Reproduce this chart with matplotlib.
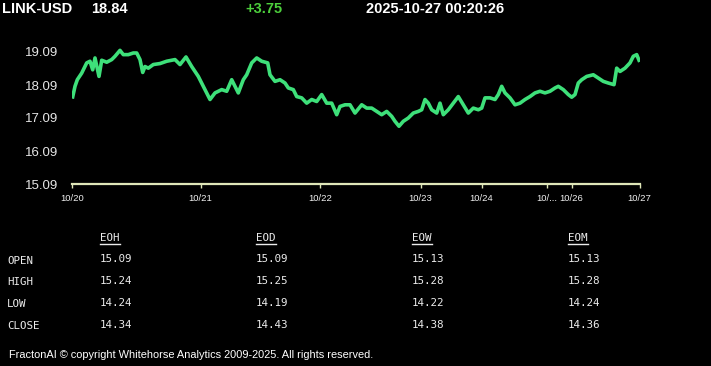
import matplotlib
matplotlib.use("Agg")
import matplotlib.pyplot as plt

# price trace (x = sample position along the series, y = price)
xs = [0.7, 3, 5.3, 9.7, 14.7, 18, 20.7, 23, 27, 29.7, 34.7, 39.7, 43, 48, 51.3,
      56.3, 61.3, 64.7, 68, 70.7, 73, 76.3, 81.3, 88, 94.7, 103, 108, 114, 119.7,
      126.3, 131.3, 138, 143, 149.7, 154.7, 159.7, 163, 166.3, 171.3, 174.7, 179.7,
      184.7, 189.7, 195.7, 198, 203, 208, 213, 216.3, 221.3, 224.7, 229.7, 234.7,
      239.7, 244.7, 249.7, 254.7, 259.7, 264.7, 268, 273, 278, 283, 289.7, 294.7,
      299.7, 304.7, 309.7, 314.7, 319.7, 323, 327, 331.3, 336.3, 341.3, 346.3,
      349.7, 353, 356.3, 359.7, 364.7, 368, 371.3, 376.3, 381.3, 386.3, 391.3,
      396.3, 401.3, 406.3, 409.7, 413, 418, 423, 426.3, 429.7, 433, 438, 443, 448,
      453, 458, 463, 468, 473, 478, 483, 486.3, 491.3, 496.3, 499.7, 503, 506.3,
      509.7, 514.7, 521.3, 526.3, 531.3, 536.3, 542, 544.7, 548, 553, 558, 561.3,
      564.7, 567]
prices = [17.73, 18.05, 18.25, 18.45, 18.76, 18.81, 18.55, 18.91, 18.35, 18.84,
          18.78, 18.86, 18.96, 19.14, 19.01, 19.01, 19.06, 19.06, 18.86, 18.47,
          18.65, 18.60, 18.71, 18.74, 18.81, 18.86, 18.71, 18.94, 18.65, 18.35,
          18.05, 17.65, 17.85, 17.95, 17.90, 18.25, 18.05, 17.85, 18.25, 18.40,
          18.76, 18.91, 18.81, 18.76, 18.40, 18.20, 18.25, 18.15, 18.00, 17.95,
          17.74, 17.70, 17.54, 17.65, 17.59, 17.80, 17.54, 17.54, 17.19, 17.44,
          17.49, 17.49, 17.24, 17.49, 17.39, 17.39, 17.29, 17.19, 17.29, 17.14,
          16.99, 16.84, 16.99, 17.09, 17.24, 17.29, 17.34, 17.65, 17.54, 17.34,
          17.24, 17.54, 17.19, 17.34, 17.54, 17.74, 17.49, 17.24, 17.39, 17.34,
          17.39, 17.70, 17.70, 17.65, 17.80, 18.05, 17.85, 17.70, 17.49, 17.54,
          17.65, 17.74, 17.85, 17.90, 17.85, 17.90, 18.00, 18.05, 17.95, 17.80,
          17.72, 17.80, 18.15, 18.25, 18.35, 18.40, 18.30, 18.20, 18.15, 18.10,
          18.60, 18.50, 18.60, 18.76, 18.96, 19.01, 18.84]

tick_pos = [0, 128.5, 248, 348.5, 409.5, 474.5, 499.5, 567.5]
tick_labels = ["10/20", "10/21", "10/22", "10/23", "10/24", "10/...", "10/26", "10/27"]
y_ticks = [15.09, 16.09, 17.09, 18.09, 19.09]

columns = ["EOH", "EOD", "EOW", "EOM"]
rows = ["OPEN", "HIGH", "LOW", "CLOSE"]
table = [
    ["15.09", "15.09", "15.13", "15.13"],
    ["15.24", "15.25", "15.28", "15.28"],
    ["14.24", "14.19", "14.22", "14.24"],
    ["14.34", "14.43", "14.38", "14.36"],
]

W, H = 711, 366
fig = plt.figure(figsize=(W / 100, H / 100), dpi=100, facecolor="black")

# plot area in pixel coords
left, right, bottom, top = 72, 639.5, 184, 40
ax = fig.add_axes([left / W, 1 - bottom / H, (right - left) / W, (bottom - top) / H])
ax.set_facecolor("black")
ax.plot(xs, prices, color="#3ee07a", lw=2.6)
ax.set_xlim(0, 567.5)
ax.set_ylim(15.09, 15.09 + (bottom - top) / 33.0)

for s in ["top", "right", "left"]:
    ax.spines[s].set_visible(False)
ax.spines["bottom"].set_color("#dfe6b8")
ax.spines["bottom"].set_linewidth(1.6)

ax.set_yticks(y_ticks)
ax.set_yticklabels([f"{v:.2f}" for v in y_ticks], family="Liberation Sans", fontsize=9.5, color="#e6e6e6")
ax.tick_params(axis="y", length=0, pad=10)
ax.set_xticks(tick_pos)
ax.set_xticklabels(tick_labels, family="Liberation Sans", fontsize=6.8, color="#f0f0f0")
ax.tick_params(axis="x", length=3, width=1, color="#dfe6b8", pad=4)


def px(x, y):
    return x / W, 1 - y / H


# header
hdr = dict(family="Liberation Sans", fontsize=10.5, fontweight="bold", va="center", ha="left")
fig.text(*px(2, 9), "LINK-USD", color="white", **hdr)
fig.text(*px(91, 9), "18.84", color="white", **hdr)
fig.text(*px(245, 9), "+3.75", color="#4ccf3c", **hdr)
fig.text(*px(366, 9), "2025-10-27 00:20:26", color="white", **hdr)

# OHLC table
mono = dict(family="DejaVu Sans Mono", fontsize=7.8, color="#ececec", va="center", ha="left")
col_x = [100, 256, 412, 568]
row_y = [259, 280.5, 302.5, 324.5]
for cx, name in zip(col_x, columns):
    fig.text(*px(cx, 238), name, **mono)
    fig.lines.append(plt.Line2D([cx / W, (cx + 19.5) / W], [1 - 243.5 / H] * 2,
                                transform=fig.transFigure, color="#ececec", lw=1))
for ry, name, vals in zip(row_y, rows, table):
    fig.text(*px(7, ry + 1.5), name, **mono)
    for cx, v in zip(col_x, vals):
        fig.text(*px(cx, ry), v, **mono)

fig.text(*px(9, 355), "FractonAI \u00a9 copyright Whitehorse Analytics 2009-2025. All rights reserved.",
         family="Liberation Sans", fontsize=7.95, color="white",
         va="center", ha="left")

fig.savefig("out.png", dpi=100, facecolor="black")
